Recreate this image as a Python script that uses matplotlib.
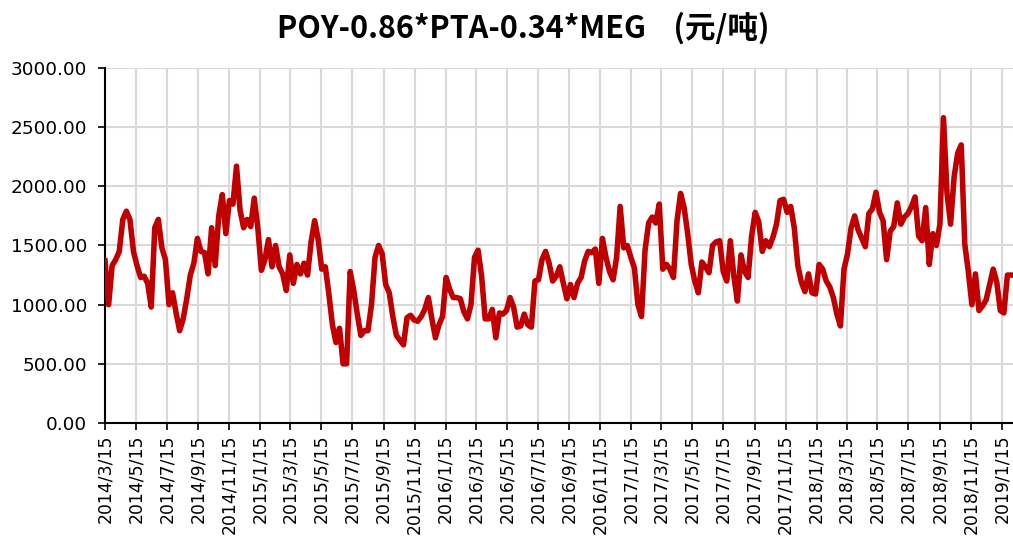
import numpy as np
import pandas as pd
import matplotlib
matplotlib.use("Agg")
import matplotlib.pyplot as plt
import matplotlib.dates as mdates
from matplotlib.ticker import MultipleLocator, FuncFormatter

# weekly readings, one list per calendar year (first week 2014/3/15)
v2014 = [1370, 1000, 1330, 1380, 1450, 1720, 1790, 1720, 1450, 1330,
         1230, 1240, 1180, 980, 1650, 1720, 1480, 1380, 1000, 1100,
         930, 780, 880, 1050, 1250, 1350, 1560, 1450, 1440, 1260,
         1650, 1330, 1750, 1930, 1600, 1880, 1850, 2170, 1800, 1650,
         1720, 1660]
v2015 = [1900, 1650, 1290, 1380, 1550, 1320, 1500, 1320, 1260, 1120,
         1420, 1180, 1340, 1260, 1350, 1250, 1530, 1710, 1550, 1300,
         1320, 1090, 830, 680, 800, 500, 500, 1280, 1120, 920,
         740, 780, 780, 1000, 1400, 1500, 1430, 1170, 1100, 900,
         740, 700, 660, 890, 910, 870, 860, 900, 960, 1060,
         880, 720]
v2016 = [830, 900, 1230, 1130, 1060, 1060, 1050, 940, 880, 1000,
         1400, 1460, 1240, 880, 880, 960, 720, 930, 920, 950,
         1060, 980, 810, 820, 920, 830, 810, 1200, 1210, 1380,
         1450, 1350, 1200, 1240, 1320, 1180, 1050, 1170, 1060, 1180,
         1230, 1370, 1450, 1440, 1470, 1180, 1560, 1400, 1280, 1210,
         1400, 1830, 1480]
v2017 = [1500, 1400, 1310, 1000, 900, 1460, 1690, 1740, 1690, 1850,
         1300, 1340, 1300, 1230, 1710, 1940, 1820, 1600, 1340, 1200,
         1100, 1360, 1320, 1270, 1500, 1530, 1540, 1280, 1200, 1540,
         1240, 1030, 1420, 1280, 1230, 1580, 1780, 1700, 1450, 1540,
         1490, 1570, 1680, 1880, 1890, 1780, 1830, 1650, 1330, 1190,
         1110, 1260]
v2018 = [1100, 1090, 1340, 1300, 1200, 1150, 1060, 920, 820, 1300,
         1430, 1650, 1750, 1630, 1560, 1490, 1770, 1810, 1950, 1780,
         1710, 1380, 1620, 1660, 1860, 1680, 1740, 1770, 1830, 1910,
         1580, 1540, 1820, 1340, 1600, 1500, 1680, 2580, 1940, 1680,
         2080, 2280, 2350, 1510, 1280, 1000, 1260, 950, 990, 1040,
         1170, 1300]
v2019 = [1190, 950, 930, 1250, 1250]

values = v2014 + v2015 + v2016 + v2017 + v2018 + v2019
dates = pd.date_range("2014-03-15", periods=len(values), freq="7D")

title = "POY-0.86*PTA-0.34*MEG    (元/吨)"

fig = plt.figure(figsize=(10.13, 5.38), dpi=100)
ax = fig.add_axes([0.1037, 0.2138, 0.8963, 0.6598])

ax.plot(dates, values, color="#C00000", lw=4, solid_joinstyle="round", zorder=3)

ax.set_ylim(0, 3000)
ax.set_xlim(pd.Timestamp("2014-03-15"), pd.Timestamp("2019-02-06"))
ax.yaxis.set_major_locator(MultipleLocator(500))
ax.yaxis.set_major_formatter(FuncFormatter(lambda v, p: "%.2f" % v))
ax.xaxis.set_major_locator(mdates.MonthLocator(bymonth=[1, 3, 5, 7, 9, 11], bymonthday=15))
ax.xaxis.set_major_formatter(FuncFormatter(
    lambda v, p: "%d/%d/%d" % (mdates.num2date(v).year, mdates.num2date(v).month, mdates.num2date(v).day)))

ax.grid(True, color="#D9D9D9", lw=1.5, zorder=0)
ax.set_axisbelow(True)
for s in ["top", "right"]:
    ax.spines[s].set_visible(False)
for s in ["left", "bottom"]:
    ax.spines[s].set_color("black")
    ax.spines[s].set_linewidth(1.5)

ax.tick_params(axis="both", direction="out", length=5, width=1.2, colors="black")
ax.tick_params(axis="y", labelsize=13.3, pad=8)
ax.tick_params(axis="x", labelsize=12.4, labelrotation=90, pad=3)
for lab in ax.get_xticklabels() + ax.get_yticklabels():
    lab.set_family("DejaVu Sans")

fig.text(0.517, 0.947, title, ha="center", va="center", fontsize=22, fontweight="bold",
         family=["Noto Sans CJK SC", "DejaVu Sans"])

fig.savefig("out.png", dpi=100)
